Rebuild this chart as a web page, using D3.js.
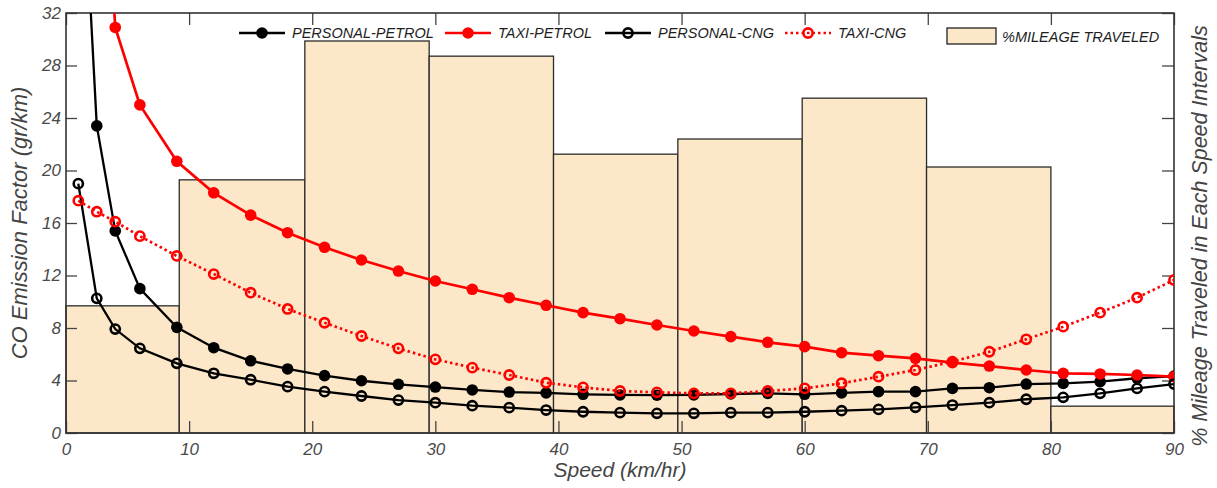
<!DOCTYPE html>
<html>
<head>
<meta charset="utf-8">
<script src="https://cdn.jsdelivr.net/npm/d3@7.9.0/dist/d3.min.js"></script>
<style>
  body { margin: 0; background: #fff; }
  svg { display: block; font-family: "Liberation Sans", Arial, sans-serif; }
  .tick text { font-style: italic; font-size: 17px; fill: #4a4a4a; }
  .tick line { stroke: #444; stroke-width: 1.3; }
</style>
</head>
<body>
<svg id="chart" width="1217" height="488"></svg>
<script>
// speeds at which emission factors were sampled (km/hr)
const speeds = [1, 2.5, 4, 6, 9, 12, 15, 18, 21, 24, 27, 30, 33, 36, 39, 42, 45, 48, 51, 54, 57, 60, 63, 66, 69, 72, 75, 78, 81, 84, 87, 90];

// CO emission factor (gr/km)
const personalPetrol = [50, 23.4, 15.4, 11.0, 8.05, 6.5, 5.5, 4.88, 4.37, 3.98, 3.71, 3.5, 3.28, 3.12, 3.05, 2.95, 2.9, 2.88, 2.9, 2.97, 3.02, 2.95, 3.05, 3.15, 3.15, 3.4, 3.45, 3.73, 3.78, 3.91, 4.17, 4.34];
const taxiPetrol = [90, 55, 30.9, 25.0, 20.7, 18.3, 16.6, 15.26, 14.15, 13.18, 12.34, 11.58, 10.95, 10.31, 9.73, 9.17, 8.71, 8.23, 7.77, 7.34, 6.91, 6.58, 6.12, 5.89, 5.69, 5.36, 5.10, 4.80, 4.55, 4.50, 4.42, 4.29];
const personalCng = [19.0, 10.26, 7.92, 6.45, 5.31, 4.55, 4.06, 3.53, 3.15, 2.82, 2.51, 2.31, 2.08, 1.93, 1.75, 1.62, 1.55, 1.50, 1.50, 1.55, 1.55, 1.62, 1.70, 1.80, 1.96, 2.13, 2.31, 2.57, 2.72, 3.02, 3.40, 3.73];
const taxiCng = [17.7, 16.86, 16.1, 15.0, 13.49, 12.11, 10.69, 9.45, 8.40, 7.39, 6.45, 5.61, 4.98, 4.42, 3.83, 3.48, 3.2, 3.10, 3.02, 3.02, 3.2, 3.4, 3.79, 4.29, 4.8, 5.43, 6.19, 7.14, 8.10, 9.17, 10.31, 11.66];

// % mileage traveled in each speed interval
const binEdges = [0, 9.2, 19.4, 29.5, 39.6, 49.7, 59.8, 69.9, 80, 90];
const mileage = [5.45, 10.85, 16.8, 16.15, 11.95, 12.6, 14.35, 11.4, 1.15];

const xTicks = d3.range(0, 91, 10);
const yTicks = d3.range(0, 33, 4);

const svg = d3.select('#chart');
const pLeft = 66, pRight = 1174, pTop = 13, pBottom = 433;

const x = d3.scaleLinear().domain([0, 90]).range([pLeft, pRight]);
const y = d3.scaleLinear().domain([0, 32]).range([pBottom, pTop]);
const yR = d3.scaleLinear().domain([0, 18]).range([pBottom, pTop]);

svg.append('defs').append('clipPath').attr('id', 'plot-clip')
  .append('rect').attr('x', pLeft).attr('y', pTop)
  .attr('width', pRight - pLeft).attr('height', pBottom - pTop);

// mileage bars
svg.append('g').selectAll('rect')
  .data(mileage)
  .join('rect')
  .attr('x', (d, i) => x(binEdges[i]))
  .attr('width', (d, i) => x(binEdges[i + 1]) - x(binEdges[i]))
  .attr('y', d => yR(d))
  .attr('height', d => yR(0) - yR(d))
  .attr('fill', '#fce8c9')
  .attr('stroke', '#2b2b2b')
  .attr('stroke-width', 1.3);

// axes with inward ticks
svg.append('g').attr('transform', `translate(0,${pBottom})`)
  .call(d3.axisBottom(x).tickValues(xTicks).tickSizeInner(-12).tickSizeOuter(0).tickPadding(10))
  .call(g => g.select('.domain').remove());
svg.append('g').attr('transform', `translate(0,${pTop})`)
  .call(d3.axisTop(x).tickValues(xTicks).tickSizeInner(-12).tickSizeOuter(0).tickFormat(''))
  .call(g => g.select('.domain').remove());
svg.append('g').attr('transform', `translate(${pLeft},0)`)
  .call(d3.axisLeft(y).tickValues(yTicks).tickSizeInner(-11).tickSizeOuter(0).tickPadding(5))
  .call(g => g.select('.domain').remove());
svg.append('g').attr('transform', `translate(${pRight},0)`)
  .call(d3.axisRight(yR).tickValues(d3.range(0, 18.1, 2.25)).tickSizeInner(-12).tickSizeOuter(0).tickFormat(''))
  .call(g => g.select('.domain').remove());

// plot box
svg.append('rect')
  .attr('x', pLeft).attr('y', pTop)
  .attr('width', pRight - pLeft).attr('height', pBottom - pTop)
  .attr('fill', 'none').attr('stroke', '#333').attr('stroke-width', 1.6);

const series = [
  { name: 'PERSONAL-PETROL', values: personalPetrol, color: '#000', filled: true, dash: null, width: 2.3 },
  { name: 'TAXI-PETROL', values: taxiPetrol, color: '#ff0000', filled: true, dash: null, width: 2.7 },
  { name: 'PERSONAL-CNG', values: personalCng, color: '#000', filled: false, dash: null, width: 2.3 },
  { name: 'TAXI-CNG', values: taxiCng, color: '#ff0000', filled: false, dash: '2.5,3', width: 2.7 },
];

const line = d3.line().x(d => x(d[0])).y(d => y(d[1]));
const plot = svg.append('g').attr('clip-path', 'url(#plot-clip)');

function marker(g, s) {
  if (s.filled) {
    g.attr('r', 5.8).attr('fill', s.color).attr('stroke', 'none');
  } else {
    g.attr('r', 4.6).attr('fill', 'none').attr('stroke', s.color).attr('stroke-width', 2.6);
  }
}

series.forEach(s => {
  const pts = speeds.map((sp, i) => [sp, s.values[i]]);
  plot.append('path')
    .attr('d', line(pts))
    .attr('fill', 'none')
    .attr('stroke', s.color)
    .attr('stroke-width', s.width)
    .attr('stroke-dasharray', s.dash);
  plot.append('g').selectAll('circle')
    .data(pts.filter(p => p[1] <= 32))
    .join('circle')
    .attr('cx', d => x(d[0]))
    .attr('cy', d => y(d[1]))
    .call(g => marker(g, s));
});

// legend
const legendY = 33;
const legendPos = [239, 445, 605, 785];
series.forEach((s, i) => {
  const lx = legendPos[i];
  svg.append('line')
    .attr('x1', lx).attr('x2', lx + 46).attr('y1', legendY).attr('y2', legendY)
    .attr('stroke', s.color).attr('stroke-width', s.width)
    .attr('stroke-dasharray', s.dash);
  svg.append('circle').attr('cx', lx + 23).attr('cy', legendY).call(g => marker(g, s));
  svg.append('text')
    .attr('x', lx + 53).attr('y', legendY + 5)
    .attr('font-size', 14.5).attr('font-style', 'italic').attr('fill', '#1e1e1e')
    .text(s.name);
});
svg.append('rect')
  .attr('x', 947).attr('y', 28).attr('width', 49).attr('height', 16)
  .attr('fill', '#fce8c9').attr('stroke', '#222').attr('stroke-width', 1.3);
svg.append('text')
  .attr('x', 1002).attr('y', legendY + 8.5)
  .attr('font-size', 14.5).attr('font-style', 'italic').attr('fill', '#1e1e1e')
  .text('%MILEAGE TRAVELED');

// axis titles
svg.append('text')
  .attr('transform', `translate(27,${(pTop + pBottom) / 2}) rotate(-90)`)
  .attr('text-anchor', 'middle')
  .attr('font-size', 22).attr('font-style', 'italic').attr('fill', '#444')
  .text('CO Emission Factor (gr/km)');
svg.append('text')
  .attr('transform', `translate(1207,236) rotate(-90)`)
  .attr('text-anchor', 'middle')
  .attr('font-size', 21.5).attr('font-style', 'italic').attr('fill', '#444')
  .text('% Mileage Traveled in Each Speed Intervals');
svg.append('text')
  .attr('x', (pLeft + pRight) / 2).attr('y', 477)
  .attr('text-anchor', 'middle')
  .attr('font-size', 21).attr('font-style', 'italic').attr('fill', '#444')
  .text('Speed (km/hr)');
</script>
</body>
</html>
